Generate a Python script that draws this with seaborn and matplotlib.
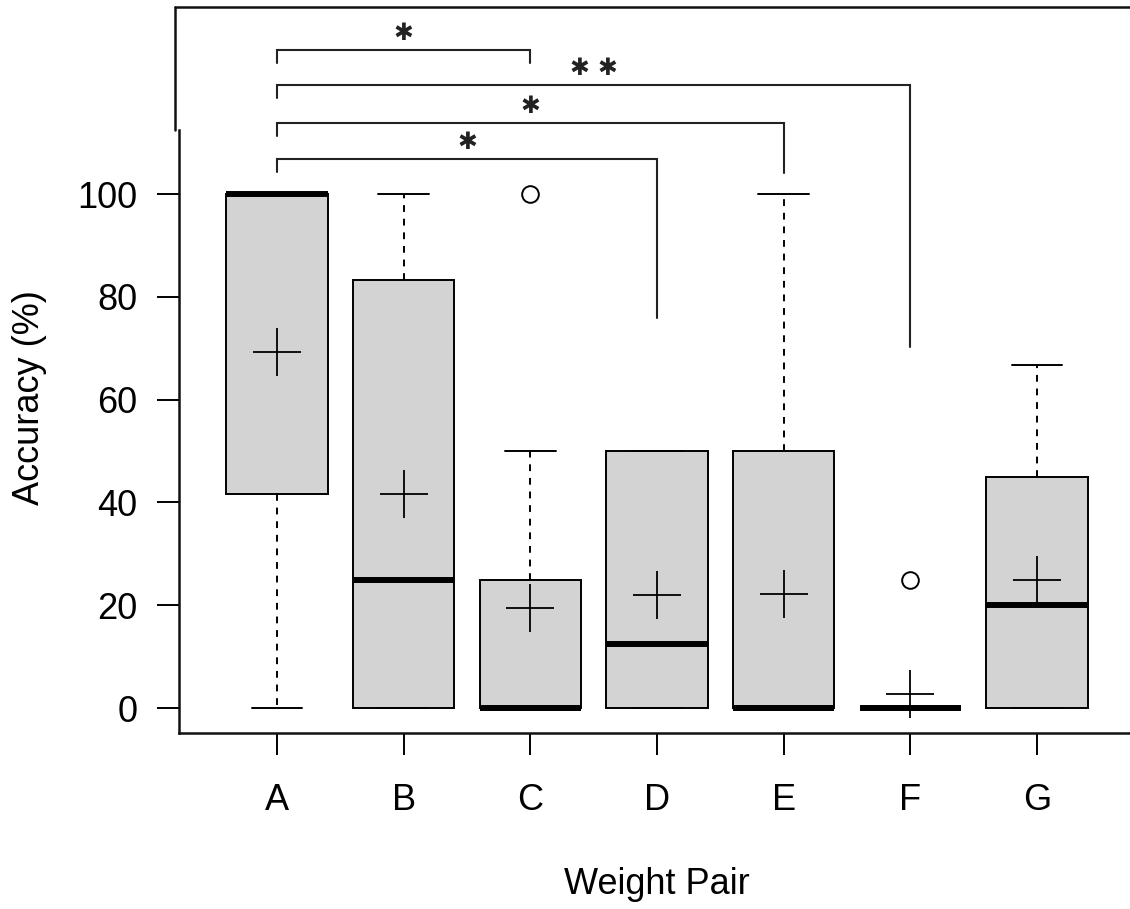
import numpy as np
import pandas as pd
import matplotlib
matplotlib.use("Agg")
import matplotlib.pyplot as plt
import seaborn as sns

# --------------------------------
# Data (accuracy per weight pair)
# --------------------------------
pairs = ["A", "B", "C", "D", "E", "F", "G"]
acc_A = [0, 16.7, 41.7, 65.0, 100, 100, 100, 100, 100]
acc_B = [0, 0, 0, 8.3, 25, 75, 83.3, 83.3, 100]
acc_C = [0, 0, 0, 0, 0, 0, 25, 50, 100]
acc_D = [0, 0, 0, 10, 12.5, 25, 50, 50, 50]
acc_E = [0, 0, 0, 0, 0, 0, 50, 50, 100]
acc_F = [0, 0, 0, 0, 0, 0, 0, 0, 25]
acc_G = [0, 0, 0, 0, 20, 41.7, 45, 50, 66.7]

# significance brackets
bracket_from = ["A", "A", "A", "A"]
bracket_to = ["C", "F", "E", "D"]
bracket_top = [128.0, 121.2, 113.8, 106.8]
leg_left_end = [125.6, 118.7, 111.3, 104.3]
leg_right_end = [125.6, 70.2, 104.1, 75.9]
bracket_stars = ["✱", "✱ ✱", "✱", "✱"]

y_ticks = [0, 20, 40, 60, 80, 100]

all_acc = [acc_A, acc_B, acc_C, acc_D, acc_E, acc_F, acc_G]
df = pd.DataFrame({
    "pair": np.repeat(pairs, [len(a) for a in all_acc]),
    "accuracy": np.concatenate(all_acc),
})

# --------------------------------
# Style
# --------------------------------
sns.set_style("ticks")
plt.rcParams["font.family"] = ["Liberation Sans", "DejaVu Sans"]
plt.rcParams["text.color"] = "black"
plt.rcParams["axes.labelcolor"] = "black"

W, H = 1130, 909
fig = plt.figure(figsize=(W / 100, H / 100), dpi=100)
ax = fig.add_axes([179 / W, 1 - 733 / H, (W - 179) / W, (733 - 7) / H])

lw = 1.4
sns.boxplot(
    data=df, x="pair", y="accuracy", order=pairs, ax=ax,
    color="#d3d3d3", saturation=1, width=0.8, linecolor="black",
    linewidth=lw, whis=1.5, capwidths=0.4,
    showmeans=True,
    boxprops=dict(facecolor="#d3d3d3", edgecolor="black", linewidth=lw),
    medianprops=dict(color="black", linewidth=4.3),
    whiskerprops=dict(color="black", linewidth=lw, linestyle=(0, (3.5, 3.5))),
    capprops=dict(color="black", linewidth=lw),
    flierprops=dict(marker="o", markersize=12, markerfacecolor="none",
                    markeredgecolor="black", markeredgewidth=lw),
    meanprops=dict(marker="+", markersize=34, markeredgecolor="black",
                   markeredgewidth=1.3),
)

# --------------------------------
# Significance brackets
# --------------------------------
for a, b, top, l_end, r_end, s in zip(bracket_from, bracket_to, bracket_top,
                                       leg_left_end, leg_right_end, bracket_stars):
    x0, x1 = pairs.index(a), pairs.index(b)
    ax.plot([x0, x0, x1, x1], [l_end, top, top, r_end],
            color="#222222", lw=1.5, clip_on=False, solid_joinstyle="miter")
    ax.text((x0 + x1) / 2, top + 3.3, s, ha="center", va="center",
            fontsize=17, fontweight="bold", family=["DejaVu Sans"],
            color="#222222")

# --------------------------------
# Axes
# --------------------------------
ax.set_xlim(-0.774, 6.734)
ax.set_ylim(-4.86, 136.4)
ax.set_yticks(y_ticks)
ax.set_yticklabels([str(t) for t in y_ticks])

ax.tick_params(axis="both", direction="out", length=16, width=lw,
               labelsize=26, colors="black")
ax.tick_params(axis="y", pad=14)
ax.tick_params(axis="x", pad=20)

for side in ["top", "right"]:
    ax.spines[side].set_visible(False)
for side in ["left", "bottom"]:
    ax.spines[side].set_linewidth(1.8)
    ax.spines[side].set_color("#111111")
ax.spines["left"].set_bounds(-4.86, 112.5)

# outer frame piece (top and upper left)
fig.add_artist(plt.Line2D([175 / W, 1.0], [1 - 7 / H, 1 - 7 / H],
                          color="#111111", lw=1.8))
fig.add_artist(plt.Line2D([175 / W, 175 / W], [1 - 7 / H, 1 - 130 / H],
                          color="#111111", lw=1.8))

ax.set_xlabel("Weight Pair", fontsize=26)
ax.set_ylabel("Accuracy (%)", fontsize=26)
ax.xaxis.set_label_coords((657 - 179) / (W - 179), (733 - 885) / (733 - 7))
ax.xaxis.label.set_va("center")
ax.yaxis.set_label_coords((30 - 179) / (W - 179), (733 - 398) / (733 - 7))
ax.yaxis.label.set_va("center")

fig.savefig("out.png", dpi=100)
